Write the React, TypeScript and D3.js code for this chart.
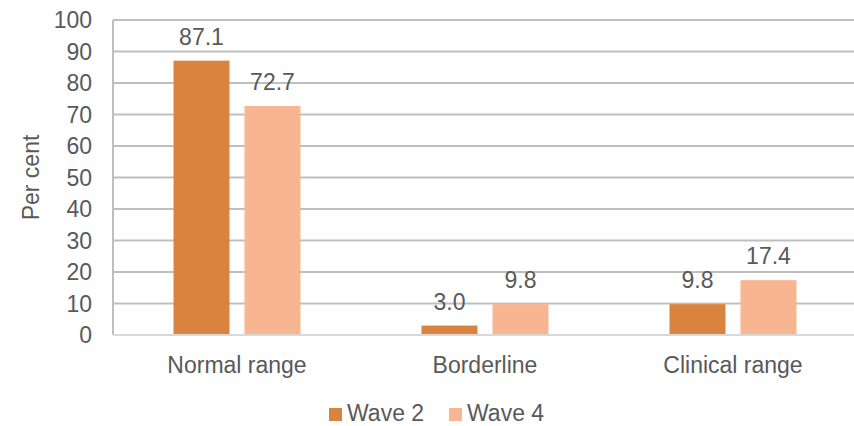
import React from "react";
import * as d3 from "d3";

// Chart data
const categories = ["Normal range", "Borderline", "Clinical range"];
const seriesNames = ["Wave 2", "Wave 4"];
const wave2 = [87.1, 3.0, 9.8];
const wave4 = [72.7, 9.8, 17.4];
const yTicks = [0, 10, 20, 30, 40, 50, 60, 70, 80, 90, 100];

const colors = ["#DA833E", "#F8B592"];
const textColor = "#595959";
const font = "'Liberation Sans', Arial, sans-serif";
const fs = 23;

const W = 854;
const H = 426;
const plot = { left: 113, right: 857, top: 20, bottom: 335 };

export default function App() {
  const x = d3
    .scaleBand<string>()
    .domain(categories)
    .range([plot.left, plot.right])
    .paddingInner(0)
    .paddingOuter(0);
  const groupWidth = 127;
  const inner = d3
    .scaleBand<string>()
    .domain(seriesNames)
    .range([0, groupWidth])
    .paddingInner(15 / 71)
    .paddingOuter(0);
  const y = d3.scaleLinear().domain([0, 100]).range([plot.bottom, plot.top]);

  const series = [wave2, wave4];

  return (
    <svg
      width={W}
      height={H}
      style={{ position: "absolute", left: 0, top: 0, background: "#fff" }}
      fontFamily={font}
    >
      {/* horizontal gridlines */}
      {yTicks.map((t) =>
        t === 0 ? null : (
          <line
            key={t}
            x1={plot.left}
            x2={plot.right}
            y1={y(t)}
            y2={y(t)}
            stroke="#BFBFBF"
            strokeWidth={2}
          />
        )
      )}
      {/* left axis line */}
      <line
        x1={plot.left}
        x2={plot.left}
        y1={plot.top}
        y2={plot.bottom}
        stroke="#BFBFBF"
        strokeWidth={2}
      />
      {/* y tick labels */}
      {yTicks.map((t) => (
        <text
          key={t}
          x={92}
          y={y(t)}
          dy="0.35em"
          textAnchor="end"
          fontSize={fs}
          fill={textColor}
        >
          {t}
        </text>
      ))}
      {/* bars and value labels */}
      {categories.map((c, i) => {
        const gx = (x(c) ?? 0) + (x.bandwidth() - groupWidth) / 2;
        return (
          <g key={c}>
            {seriesNames.map((s, j) => {
              const v = series[j][i];
              const bx = gx + (inner(s) ?? 0);
              return (
                <g key={s}>
                  <rect
                    x={bx}
                    y={y(v)}
                    width={inner.bandwidth()}
                    height={y(0) - y(v)}
                    fill={colors[j]}
                  />
                  <text
                    x={bx + inner.bandwidth() / 2}
                    y={y(v) - 16}
                    textAnchor="middle"
                    fontSize={fs}
                    fill={textColor}
                  >
                    {v.toFixed(1)}
                  </text>
                </g>
              );
            })}
            <text
              x={(x(c) ?? 0) + x.bandwidth() / 2}
              y={373}
              textAnchor="middle"
              fontSize={fs}
              fill={textColor}
            >
              {c}
            </text>
          </g>
        );
      })}
      {/* baseline */}
      <line
        x1={plot.left}
        x2={plot.right}
        y1={plot.bottom}
        y2={plot.bottom}
        stroke="#D9D9D9"
        strokeWidth={2}
      />
      {/* y axis title */}
      <text
        transform={`translate(39,${(plot.top + plot.bottom) / 2}) rotate(-90)`}
        textAnchor="middle"
        fontSize={fs}
        fill={textColor}
      >
        Per cent
      </text>
      {/* legend */}
      {seriesNames.map((s, j) => {
        const lx = [329, 449][j];
        return (
          <g key={s}>
            <rect x={lx} y={408} width={13} height={13} fill={colors[j]} />
            <text x={lx + 18} y={421} fontSize={fs} fill={textColor}>
              {s}
            </text>
          </g>
        );
      })}
    </svg>
  );
}
